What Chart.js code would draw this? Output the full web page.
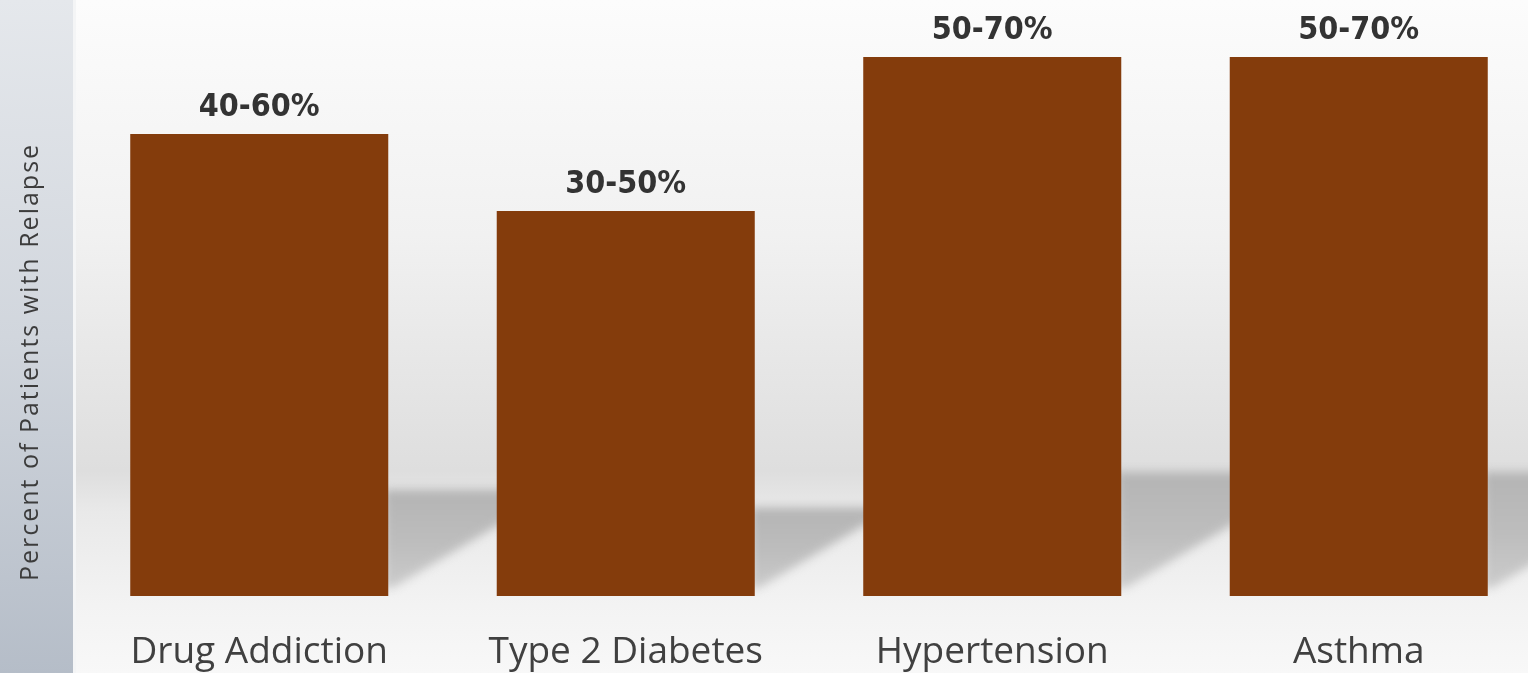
<!DOCTYPE html>
<html>
<head>
<meta charset="utf-8">
<script src="https://cdn.jsdelivr.net/npm/chart.js@4.4.0/dist/chart.umd.min.js"></script>
<style>
    html, body { margin: 0; padding: 0; overflow: hidden; background: #f7f7f7; }
    #wrap { position: relative; width: 1542px; height: 673px; }
</style>
</head>
<body>
<div id="wrap"><canvas id="relapseChart"></canvas></div>
<script>
// datos
const categories = ['Drug Addiction', 'Type 2 Diabetes', 'Hypertension', 'Asthma'];
const relapseHigh = [60, 50, 70, 70];           // altura de la barra = limite superior
const rangeLabels = ['40-60%', '30-50%', '50-70%', '50-70%'];
const yAxisTitle = 'Percent of Patients with Relapse';

// fondo: franja gris a la izquierda + pared con degradado
const backdrop = {
    id: 'backdrop',
    beforeDraw(chart) {
        const ctx = chart.ctx;
        const w = chart.width, h = chart.height;
        const left = chart.chartArea.left;
        ctx.save();
        const g = ctx.createLinearGradient(0, 0, 0, h);
        g.addColorStop(0, '#fcfcfc');
        g.addColorStop(0.35, '#f1f1f1');
        g.addColorStop(0.70, '#dedede');
        g.addColorStop(0.76, '#e9e9e9');
        g.addColorStop(0.90, '#f3f3f3');
        g.addColorStop(1, '#f8f8f8');
        ctx.fillStyle = g;
        ctx.fillRect(0, 0, w, h);

        const s = ctx.createLinearGradient(0, 0, 0, h);
        s.addColorStop(0, '#e5e8ec');
        s.addColorStop(0.5, '#d1d6dd');
        s.addColorStop(1, '#b5bdc8');
        ctx.fillStyle = s;
        ctx.fillRect(0, 0, left - 3, h);
        ctx.fillStyle = '#f4f5f6';
        ctx.fillRect(left - 3, 0, 3, h);

        // titulo del eje Y (con espaciado de letras)
        ctx.translate(31, 362);
        ctx.rotate(-Math.PI / 2);
        ctx.font = '25px "Open Sans", sans-serif';
        ctx.letterSpacing = '2px';
        ctx.fillStyle = '#3c3c3c';
        ctx.textAlign = 'center';
        ctx.textBaseline = 'middle';
        ctx.fillText(yAxisTitle, 0, 0);
        ctx.restore();
    },
    beforeDatasetsDraw(chart) {
        // sombras diagonales a la derecha de cada barra
        const ctx = chart.ctx;
        const meta = chart.getDatasetMeta(0);
        ctx.save();
        ctx.filter = 'blur(5px)';
        meta.data.forEach(bar => {
            const right = bar.x + bar.width / 2;
            const base = bar.base;
            const top = base - (base - bar.y) * 0.23;
            const startY = base - 8;
            const slope = 0.58;
            const meet = (startY - top) / slope;
            const sg = ctx.createLinearGradient(0, top, 0, base);
            sg.addColorStop(0, '#b4b4b4');
            sg.addColorStop(0.5, '#bdbdbd');
            sg.addColorStop(1, '#cdcdcd');
            ctx.fillStyle = sg;
            ctx.beginPath();
            ctx.moveTo(right - 4, top);
            ctx.lineTo(right + meet, top);
            ctx.lineTo(right + 4, startY);
            ctx.lineTo(right - 4, startY);
            ctx.closePath();
            ctx.fill();
        });
        ctx.restore();
    },
    afterDatasetsDraw(chart) {
        const ctx = chart.ctx;
        const meta = chart.getDatasetMeta(0);
        ctx.save();
        ctx.font = 'bold 32px "DejaVu Sans Condensed", "DejaVu Sans", sans-serif';
        ctx.fontStretch = 'condensed';
        ctx.fillStyle = '#333333';
        ctx.textAlign = 'center';
        ctx.textBaseline = 'alphabetic';
        meta.data.forEach((bar, i) => {
            ctx.fillText(rangeLabels[i], bar.x, bar.y - 18);
        });
        ctx.restore();
    }
};

new Chart(document.getElementById('relapseChart'), {
    type: 'bar',
    data: {
        labels: categories,
        datasets: [{
            data: relapseHigh,
            backgroundColor: '#843c0c',
            borderWidth: 0,
            categoryPercentage: 1,
            barPercentage: 0.704
        }]
    },
    options: {
        responsive: true,
        maintainAspectRatio: false,
        animation: false,
        layout: { padding: 0 },
        plugins: {
            legend: { display: false },
            tooltip: { enabled: false }
        },
        scales: {
            x: {
                grid: { display: false, drawTicks: false },
                border: { display: false },
                ticks: {
                    color: '#404040',
                    padding: 34,
                    maxRotation: 0,
                    font: { family: '"Open Sans", sans-serif', size: 37 }
                },
                afterFit(scale) { scale.height = 77; }
            },
            y: {
                min: 0,
                max: 77.4,
                grid: { display: false, drawTicks: false },
                border: { display: false },
                ticks: { display: false },
                afterFit(scale) { scale.width = 76; }
            }
        }
    },
    plugins: [backdrop]
});
</script>
</body>
</html>
